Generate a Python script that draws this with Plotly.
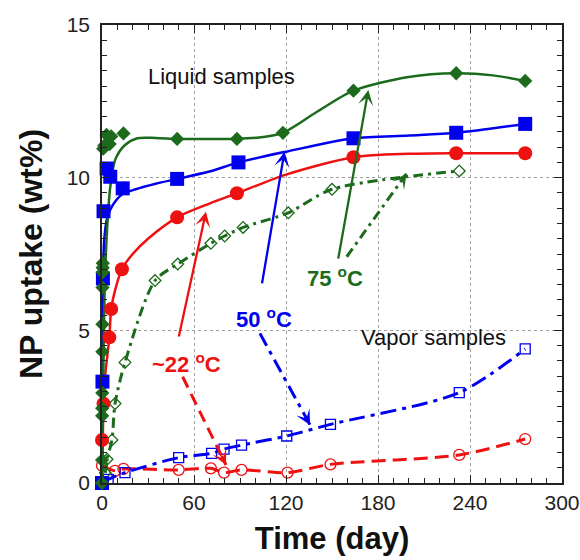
import plotly.graph_objects as go

# ---------------- data ----------------
# Liquid samples, 75 C (filled diamonds)
liq75_day = [0, 0.05, 0.1, 0.15, 0.2, 0.25, 0.3, 0.35, 0.4, 0.45, 0.5, 0.8, 1.5, 3, 5, 6, 14, 49, 88, 118, 164, 231, 276]
liq75_val = [0, 0.75, 2.2, 2.45, 2.95, 4.3, 5.2, 6.4, 6.9, 7.05, 7.2, 10.95, 11.05, 11.4, 11.1, 11.35, 11.45, 11.27, 11.27, 11.47, 12.85, 13.42, 13.17]
liq75_curve_day = [0, 0.5, 1.1, 1.8, 3.3, 5.4, 8.7, 15, 23, 35, 49, 70, 88, 105, 118, 140, 164, 200, 231, 255, 276]
liq75_curve_val = [0, 2.0, 4.5, 6.5, 8.3, 9.7, 10.6, 11.07, 11.29, 11.3, 11.27, 11.27, 11.27, 11.33, 11.47, 12.15, 12.85, 13.3, 13.42, 13.35, 13.17]

# Liquid samples, 50 C (filled squares)
liq50_day = [0, 0.3, 0.6, 1.0, 3, 5.4, 13.5, 49, 89, 164, 231, 276]
liq50_val = [0, 3.32, 6.7, 8.9, 10.3, 10.03, 9.65, 9.96, 10.5, 11.29, 11.47, 11.76]
liq50_curve_day = [0, 0.3, 0.7, 1.5, 3.5, 7, 13, 22, 35, 49, 70, 89, 120, 164, 200, 231, 276]
liq50_curve_val = [0, 3.3, 6.7, 8.0, 8.7, 9.1, 9.45, 9.62, 9.8, 9.96, 10.2, 10.5, 10.85, 11.29, 11.38, 11.47, 11.76]

# Liquid samples, ~22 C (filled circles)
liq22_day = [0, 1.0, 4.8, 6, 13, 49, 88, 164, 231, 276]
liq22_val = [1.41, 2.6, 4.77, 5.7, 7.0, 8.7, 9.49, 10.67, 10.8, 10.8]
liq22_curve_day = [0, 0.5, 1, 2, 4.8, 6, 9, 13, 20, 30, 49, 70, 88, 120, 164, 200, 233, 276]
liq22_curve_val = [0, 1.4, 2.6, 3.5, 4.77, 5.7, 6.4, 7.0, 7.5, 8.0, 8.7, 9.15, 9.49, 10.1, 10.67, 10.78, 10.8, 10.8]

# 75 C, open diamonds (dash-dot)
liq75o_day = [2.2, 3.3, 6.5, 8.5, 15, 34.6, 49.4, 71, 80, 92, 121.5, 150, 233]
liq75o_val = [0.33, 0.78, 1.41, 2.6, 3.95, 6.63, 7.17, 7.85, 8.09, 8.37, 8.85, 9.62, 10.22]

# Vapor samples, 50 C (open squares)
vap50_day = [0, 4, 15, 50, 71.5, 79.6, 91, 120.5, 149, 233, 276]
vap50_val = [0, 0.12, 0.34, 0.83, 0.97, 1.11, 1.24, 1.54, 1.92, 2.96, 4.39]

# Vapor samples, ~22 C (open circles)
vap22_day = [0, 8.5, 14, 50, 71, 79.6, 91, 121, 149, 233, 276]
vap22_val = [0.57, 0.4, 0.46, 0.43, 0.48, 0.34, 0.43, 0.34, 0.61, 0.92, 1.44]

x_ticks = [0, 60, 120, 180, 240, 300]
y_ticks = [0, 5, 10, 15]

# ---------------- styling ----------------
GREEN = "#1c6b1c"
BLUE = "#0000ee"
RED = "#ee1111"
FONT = "Arial, Liberation Sans, sans-serif"

fig = go.Figure()

def curve(x, y, color, dash="solid", width=2.5):
    fig.add_trace(go.Scatter(x=x, y=y, mode="lines",
                             line=dict(color=color, width=width, dash=dash, shape="spline", smoothing=0.8),
                             cliponaxis=False, hoverinfo="skip", showlegend=False))

def filled(x, y, color, symbol, size):
    fig.add_trace(go.Scatter(x=x, y=y, mode="markers",
                             marker=dict(symbol=symbol, size=size, color=color, line=dict(width=0)),
                             cliponaxis=False, showlegend=False))

def hollow(x, y, color, symbol, size):
    fig.add_trace(go.Scatter(x=x, y=y, mode="markers",
                             marker=dict(symbol=symbol, size=size, color=color, line=dict(width=1.3)),
                             cliponaxis=False, showlegend=False))

# dashed vapor series and dash-dot open diamonds
curve(vap22_day, vap22_val, RED, dash="14px,7px", width=3)
hollow(vap22_day, vap22_val, RED, "circle-open", 11)
curve(vap50_day, vap50_val, BLUE, dash="16px,6px,4px,6px", width=3)
hollow(vap50_day, vap50_val, BLUE, "square-open", 10)
curve(liq75o_day, liq75o_val, GREEN, dash="10px,5px,3px,5px", width=3)
hollow(liq75o_day, liq75o_val, GREEN, "diamond-open", 9)

# liquid solid curves
curve(liq22_curve_day, liq22_curve_val, RED)
curve(liq50_curve_day, liq50_curve_val, BLUE)
curve(liq75_curve_day, liq75_curve_val, GREEN)
filled(liq22_day, liq22_val, RED, "circle", 14)
filled(liq50_day, liq50_val, BLUE, "square", 14)
filled(liq75_day, liq75_val, GREEN, "diamond", 11)

# ---------------- annotations ----------------
def arrow(tail, tip, color):
    fig.add_annotation(x=tip[0], y=tip[1], ax=tail[0], ay=tail[1], xref="x", yref="y",
                       axref="x", ayref="y", text="", showarrow=True, arrowhead=3,
                       arrowsize=1.1, arrowwidth=2.3, arrowcolor=color, standoff=0)

def dashed_arrow(tail, tip, color, dash):
    fig.add_shape(type="line", x0=tail[0], y0=tail[1], x1=tip[0], y1=tip[1], xref="x", yref="y",
                  line=dict(color=color, width=3, dash=dash))
    fx = tip[0] - (tip[0] - tail[0]) * 0.12
    fy = tip[1] - (tip[1] - tail[1]) * 0.12
    fig.add_annotation(x=tip[0], y=tip[1], ax=fx, ay=fy, xref="x", yref="y",
                       axref="x", ayref="y", text="", showarrow=True, arrowhead=3,
                       arrowsize=1.0, arrowwidth=2.5, arrowcolor=color, standoff=0)

arrow((49.9, 4.75), (67.8, 8.88), RED)
dashed_arrow((52.6, 3.48), (80.9, 0.59), RED, "12px,7px")
arrow((104.2, 6.49), (119.0, 10.85), BLUE)
dashed_arrow((103.0, 4.9), (135.7, 1.9), BLUE, "14px,6px,4px,6px")
arrow((153.9, 7.30), (173.7, 12.87), GREEN)
dashed_arrow((159.6, 7.41), (198.7, 10.14), GREEN, "10px,5px,3px,5px")

def label(x, y, text, color, size=20, bold=True):
    fig.add_annotation(x=x, y=y, xref="x", yref="y", text=f"<b>{text}</b>" if bold else text,
                       showarrow=False, font=dict(family=FONT, size=size, color=color))

label(55.2, 3.93, "~22 <sup>o</sup>C", RED, 22)
label(105.7, 5.42, "50 <sup>o</sup>C", BLUE, 22)
label(152.0, 6.76, "75 <sup>o</sup>C", GREEN, 22)
label(78, 13.3, "Liquid samples", "#111", 22, bold=False)
label(216, 4.75, "Vapor samples", "#111", 22, bold=False)

# ---------------- axes ----------------
axis_common = dict(showline=True, linecolor="#222", linewidth=1.5, mirror="ticks",
                   ticks="inside", ticklen=8, tickwidth=1.2, tickcolor="#222",
                   showgrid=True, gridcolor="#a0a0a0", griddash="dot", gridwidth=1,
                   zeroline=False, automargin=False,
                   tickfont=dict(family=FONT, size=21, color="#222"))

fig.update_xaxes(range=[0, 300], tickvals=x_ticks, ticktext=[str(v) for v in x_ticks],
                 minor=dict(dtick=10, tick0=0, ticks="inside", ticklen=5, tickcolor="#222", showgrid=False),
                 title=dict(text="<b>Time (day)</b>", font=dict(family=FONT, size=31, color="#111"), standoff=14),
                 **axis_common)
fig.update_yaxes(range=[0, 15], tickvals=y_ticks, ticktext=[str(v) for v in y_ticks],
                 minor=dict(dtick=0.5, tick0=0, ticks="inside", ticklen=5, tickcolor="#222", showgrid=False),
                 title=dict(text="<b>NP uptake (wt%)</b>", font=dict(family=FONT, size=32, color="#111"), standoff=14),
                 ticklabelstandoff=6, **axis_common)

fig.update_layout(width=580, height=560, margin=dict(l=102, r=18, t=25, b=77),
                  plot_bgcolor="white", paper_bgcolor="white", showlegend=False)

fig.write_html("out.html")
